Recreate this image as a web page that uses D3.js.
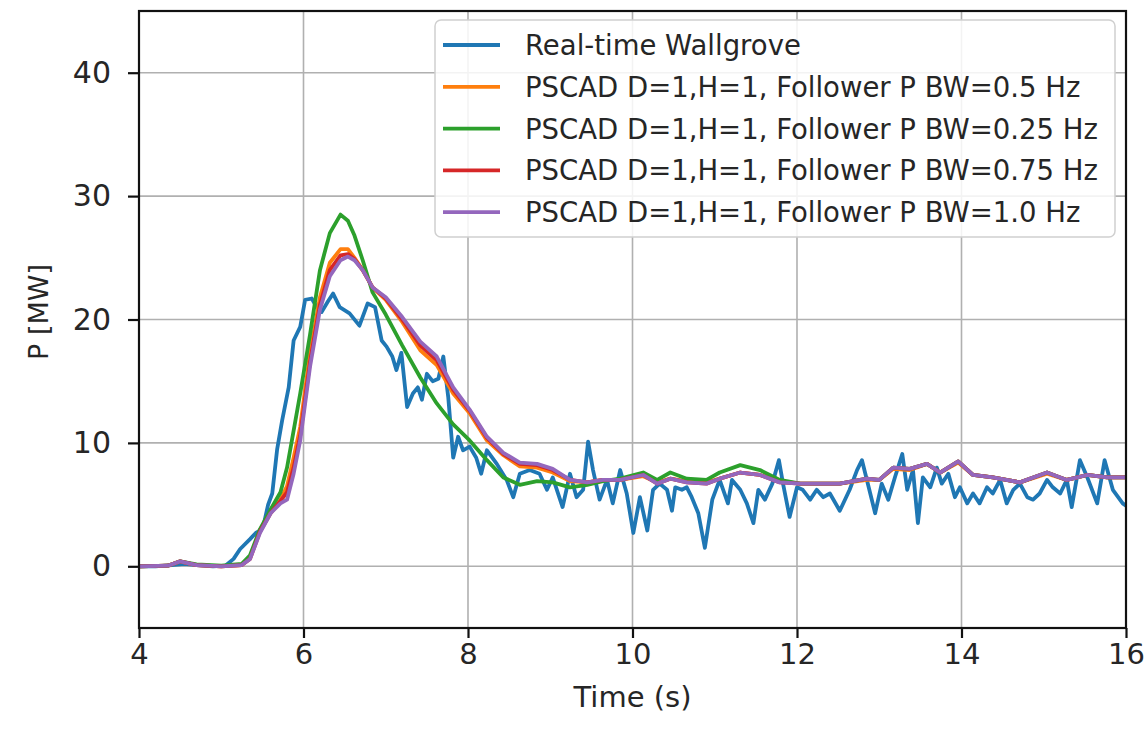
<!DOCTYPE html>
<html>
<head>
<meta charset="utf-8">
<script src="https://cdn.jsdelivr.net/npm/d3@7"></script>
<style>
  body { margin: 0; background: #fff; }
  svg text { font-family: "DejaVu Sans", sans-serif; fill: #262626; }
</style>
</head>
<body>
<svg id="svg" width="1148" height="735"></svg>
<script>
// --- data ---
var xTicks = [4, 6, 8, 10, 12, 14, 16];
var yTicks = [0, 10, 20, 30, 40];

var seriesNames = [
  'Real-time Wallgrove',
  'PSCAD D=1,H=1, Follower P BW=0.5 Hz',
  'PSCAD D=1,H=1, Follower P BW=0.25 Hz',
  'PSCAD D=1,H=1, Follower P BW=0.75 Hz',
  'PSCAD D=1,H=1, Follower P BW=1.0 Hz'
];
var seriesColors = ['#1f77b4', '#ff7f0e', '#2ca02c', '#d62728', '#9467bd'];

// measured signal
var tReal = [4.0, 4.2, 4.4, 4.55, 4.7, 4.9, 5.05, 5.15, 5.23, 5.35, 5.42, 5.47, 5.52, 5.57, 5.62, 5.68, 5.74, 5.82, 5.88, 5.96,
  6.02, 6.1, 6.16, 6.22, 6.3, 6.36, 6.44, 6.56, 6.68, 6.78, 6.87, 6.95, 7.01, 7.08, 7.13, 7.19, 7.26, 7.33, 7.39, 7.44,
  7.5, 7.57, 7.64, 7.7, 7.76, 7.82, 7.88, 7.94, 8.02, 8.1, 8.16, 8.23, 8.35, 8.47, 8.55, 8.63, 8.75, 8.87, 8.96, 9.03,
  9.15, 9.24, 9.32, 9.4, 9.46, 9.52, 9.6, 9.69, 9.76, 9.85, 9.93, 10.01, 10.09, 10.18, 10.25, 10.33, 10.42, 10.48, 10.52, 10.6,
  10.66, 10.72, 10.8, 10.88, 10.97, 11.06, 11.16, 11.21, 11.31, 11.39, 11.47, 11.53, 11.61, 11.7, 11.78, 11.83, 11.91, 12.0, 12.07, 12.16,
  12.24, 12.32, 12.4, 12.52, 12.64, 12.73, 12.79, 12.85, 12.95, 13.03, 13.11, 13.19, 13.28, 13.34, 13.41, 13.47, 13.53, 13.62, 13.7, 13.76,
  13.84, 13.92, 13.98, 14.07, 14.14, 14.22, 14.31, 14.38, 14.47, 14.55, 14.63, 14.71, 14.8, 14.87, 14.95, 15.04, 15.11, 15.2, 15.28, 15.34,
  15.44, 15.53, 15.65, 15.74, 15.84, 15.96, 16.0];
var pReal = [0, 0, 0.1, 0.2, 0.1, 0, 0.05, 0.6, 1.4, 2.2, 2.7, 2.9, 3.5, 5.0, 5.9, 9.5, 11.8, 14.5, 18.3, 19.4,
  21.6, 21.7, 21.0, 20.6, 21.5, 22.1, 21.0, 20.5, 19.5, 21.3, 21.0, 18.3, 17.8, 17.0, 15.9, 17.3, 12.9, 14.0, 14.5, 13.5,
  15.6, 15.0, 15.2, 17.0, 13.7, 8.8, 10.5, 9.4, 9.7, 8.8, 7.5, 9.4, 8.3, 7.0, 5.6, 7.5, 7.8, 7.5, 6.2, 7.2,
  4.8, 7.5, 5.6, 6.2, 10.1, 7.8, 5.4, 7.0, 5.1, 7.8, 5.9, 2.7, 5.6, 2.9, 6.2, 6.7, 6.2, 4.5, 6.4, 6.2,
  6.4, 5.6, 4.3, 1.5, 5.4, 7.0, 5.1, 7.0, 6.2, 5.1, 3.5, 6.2, 5.4, 6.7, 8.6, 6.7, 4.0, 6.4, 6.2, 5.4,
  6.2, 5.6, 5.9, 4.5, 6.2, 7.8, 8.6, 7.0, 4.3, 6.7, 5.4, 7.2, 9.1, 6.2, 7.8, 3.5, 7.2, 6.4, 8.0, 6.7,
  7.5, 5.6, 6.4, 5.1, 5.9, 5.1, 6.4, 5.9, 7.0, 5.1, 6.2, 6.7, 5.6, 5.4, 5.9, 7.0, 6.4, 5.9, 7.0, 4.8,
  8.6, 7.2, 5.1, 8.6, 6.2, 5.1, 4.9];

// simulated signals share one time base
var tModel = [4.0, 4.35, 4.5, 4.7, 5.0, 5.25, 5.35, 5.47, 5.6, 5.72, 5.8, 5.88, 5.96, 6.08, 6.2, 6.32, 6.45, 6.54, 6.62, 6.72,
  6.84, 7.0, 7.2, 7.42, 7.62, 7.82, 8.02, 8.23, 8.43, 8.63, 8.84, 9.03, 9.24, 9.45, 9.64, 9.85, 10.13, 10.3, 10.46, 10.66,
  10.9, 11.06, 11.31, 11.55, 11.79, 12.04, 12.28, 12.52, 12.85, 13.0, 13.17, 13.37, 13.58, 13.74, 13.96, 14.14, 14.38, 14.71, 15.04, 15.28,
  15.53, 15.77, 16.0];
var pBw05 = [0, 0.05, 0.4, 0.1, 0, 0.1, 0.7, 2.9, 4.4, 5.4, 6.5, 8.8, 11.3, 17.3, 21.8, 24.6, 25.7, 25.7, 25.0, 24.0,
  22.6, 21.6, 19.8, 17.5, 16.3, 14.0, 12.4, 10.2, 9.0, 8.1, 8.0, 7.6, 6.9, 6.8, 7.0, 7.0, 7.3, 6.8, 7.1, 6.9,
  6.8, 7.1, 7.6, 7.4, 6.9, 6.7, 6.7, 6.7, 7.0, 7.0, 7.9, 7.8, 8.3, 7.6, 8.4, 7.4, 7.2, 6.8, 7.5, 7.0,
  7.4, 7.2, 7.2];
var pBw025 = [0, 0.05, 0.4, 0.15, 0.05, 0.2, 0.9, 3.0, 4.6, 6.0, 8.0, 11.0, 14.0, 18.8, 24.0, 27.0, 28.5, 28.0, 26.8, 24.8,
  22.2, 20.4, 17.9, 15.3, 13.2, 11.5, 10.2, 8.6, 7.2, 6.6, 6.9, 6.8, 6.4, 6.6, 6.9, 7.1, 7.6, 7.0, 7.6, 7.1,
  7.0, 7.6, 8.2, 7.8, 7.0, 6.7, 6.7, 6.7, 7.1, 7.0, 8.0, 7.9, 8.3, 7.6, 8.5, 7.4, 7.2, 6.8, 7.6, 7.0,
  7.4, 7.2, 7.2];
var pBw075 = [0, 0.05, 0.4, 0.1, 0, 0.1, 0.6, 2.8, 4.3, 5.3, 6.0, 8.0, 10.6, 16.6, 21.2, 24.0, 25.2, 25.3, 24.9, 24.0,
  22.6, 21.7, 20.0, 17.9, 16.7, 14.3, 12.6, 10.4, 9.1, 8.3, 8.2, 7.8, 7.0, 6.8, 7.0, 7.0, 7.4, 6.7, 7.1, 6.8,
  6.7, 7.1, 7.6, 7.4, 6.8, 6.7, 6.7, 6.7, 7.1, 7.0, 8.0, 7.9, 8.3, 7.6, 8.5, 7.4, 7.2, 6.8, 7.6, 7.0,
  7.4, 7.2, 7.2];
var pBw10 = [0, 0.05, 0.4, 0.1, 0, 0.1, 0.6, 2.7, 4.3, 5.1, 5.4, 7.5, 10.2, 16.2, 20.8, 23.5, 24.8, 25.1, 24.8, 24.0,
  22.6, 21.8, 20.2, 18.2, 17.0, 14.5, 12.7, 10.5, 9.2, 8.4, 8.3, 7.9, 7.0, 6.8, 7.0, 7.0, 7.4, 6.7, 7.1, 6.8,
  6.7, 7.1, 7.6, 7.4, 6.8, 6.7, 6.7, 6.7, 7.1, 7.0, 8.0, 7.9, 8.3, 7.6, 8.5, 7.4, 7.2, 6.8, 7.6, 7.0,
  7.4, 7.2, 7.2];

var series = [
  { t: tReal, p: pReal },
  { t: tModel, p: pBw05 },
  { t: tModel, p: pBw025 },
  { t: tModel, p: pBw075 },
  { t: tModel, p: pBw10 }
];

// --- layout ---
var svg = d3.select('#svg'),
    plotLeft = 139, plotRight = 1126, plotTop = 11, plotBottom = 628;

var x = d3.scaleLinear().domain([4, 16]).range([plotLeft, plotRight]);
var y = d3.scaleLinear().domain([-5, 45]).range([plotBottom, plotTop]);

// grid
var grid = svg.append('g').attr('stroke', '#b0b0b0').attr('stroke-width', 1.6);
grid.selectAll('.gx').data(xTicks).enter().append('line')
  .attr('x1', function (d) { return x(d); }).attr('x2', function (d) { return x(d); })
  .attr('y1', plotTop).attr('y2', plotBottom);
grid.selectAll('.gy').data(yTicks).enter().append('line')
  .attr('y1', function (d) { return y(d); }).attr('y2', function (d) { return y(d); })
  .attr('x1', plotLeft).attr('x2', plotRight);

// lines
var plot = svg.append('g');
plot.append('clipPath').attr('id', 'clip').append('rect')
  .attr('x', plotLeft).attr('y', plotTop).attr('width', plotRight - plotLeft).attr('height', plotBottom - plotTop);

series.forEach(function (s, i) {
  var pts = s.t.map(function (t, k) { return [t, s.p[k]]; });
  plot.append('path')
    .datum(pts)
    .attr('clip-path', 'url(#clip)')
    .attr('fill', 'none')
    .attr('stroke', seriesColors[i])
    .attr('stroke-width', 3.8)
    .attr('stroke-linejoin', 'round')
    .attr('d', d3.line().x(function (d) { return x(d[0]); }).y(function (d) { return y(d[1]); }));
});

// frame
svg.append('rect')
  .attr('x', plotLeft).attr('y', plotTop).attr('width', plotRight - plotLeft).attr('height', plotBottom - plotTop)
  .attr('fill', 'none').attr('stroke', '#111').attr('stroke-width', 2.2);

// axes
var xAxis = svg.append('g')
  .attr('transform', 'translate(0,' + plotBottom + ')')
  .call(d3.axisBottom(x).tickValues(xTicks).tickSize(10).tickPadding(5).tickFormat(d3.format('d')));
var yAxis = svg.append('g')
  .attr('transform', 'translate(' + plotLeft + ',0)')
  .call(d3.axisLeft(y).tickValues(yTicks).tickSize(11).tickPadding(17).tickFormat(d3.format('d')));

[xAxis, yAxis].forEach(function (a) {
  a.select('.domain').remove();
  a.selectAll('.tick line').attr('stroke', '#111').attr('stroke-width', 2.2);
  a.selectAll('.tick text').style('font-family', '"DejaVu Sans", sans-serif').attr('fill', '#262626');
});
xAxis.selectAll('.tick text').style('font-size', '29px');
yAxis.selectAll('.tick text').style('font-size', '30px');

// axis titles
svg.append('text')
  .attr('x', (plotLeft + plotRight) / 2).attr('y', 707)
  .attr('text-anchor', 'middle')
  .style('font-size', '29px')
  .text('Time (s)');
svg.append('text')
  .attr('transform', 'translate(48,312) rotate(-90)')
  .attr('text-anchor', 'middle')
  .style('font-size', '27px')
  .text('P [MW]');

// legend
var legend = svg.append('g');
legend.append('rect')
  .attr('x', 435).attr('y', 20).attr('width', 680).attr('height', 217)
  .attr('rx', 6).attr('fill', 'rgba(255,255,255,0.85)')
  .attr('stroke', '#d0d0d0').attr('stroke-width', 1.5);

var rows = legend.selectAll('.row').data(seriesNames).enter().append('g')
  .attr('transform', function (d, i) { return 'translate(0,' + (45 + i * 41.8) + ')'; });
rows.append('line')
  .attr('x1', 443).attr('x2', 500).attr('y1', 0).attr('y2', 0)
  .attr('stroke', function (d, i) { return seriesColors[i]; })
  .attr('stroke-width', 3.8);
rows.append('text')
  .attr('x', 525).attr('y', 10)
  .style('font-size', '27.5px')
  .text(function (d) { return d; });
</script>
</body>
</html>
